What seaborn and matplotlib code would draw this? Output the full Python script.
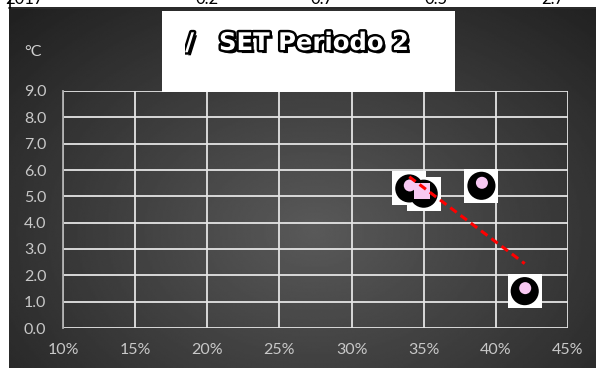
"""Recreate the 'SET Periodo 2' scatter chart with a linear trend line."""

import matplotlib

matplotlib.use("Agg")
import matplotlib.patheffects as pe
import matplotlib.pyplot as plt
import matplotlib.transforms as mtransforms
import numpy as np
import pandas as pd
import seaborn as sns
from matplotlib.lines import Line2D
from matplotlib.patches import Rectangle
from matplotlib.ticker import FixedLocator, PercentFormatter, StrMethodFormatter

W, H = 596, 368

# data
humidity = [0.34, 0.35, 0.39, 0.42]
delta_set = [5.3, 5.1, 5.4, 1.4]
pink_shape = ["o", "s", "o", "o"]
x_ticks = [0.10, 0.15, 0.20, 0.25, 0.30, 0.35, 0.40, 0.45]
y_ticks = [0, 1, 2, 3, 4, 5, 6, 7, 8, 9]
header_labels = ["2017", "0.2", "0.7", "0.5", "2.7"]
title_text = "SET Periodo 2"
y_unit = "°C"

LABEL = "#c8c8c8"
PINK = "#f8c8f2"


def px(x, y):
    """Pixel position (from top-left) to figure fraction."""
    return x / W, 1 - y / H


def draw_background(fig) -> None:
    bg = fig.add_axes([9 / W, 0, 1 - 9 / W, (H - 9) / H], zorder=0)
    yy, xx = np.mgrid[0:1:240j, 0:1:360j]
    r = np.sqrt(((xx - 0.52) / 0.72) ** 2 + ((yy - 0.62) / 0.85) ** 2)
    shade = 0.35 - 0.22 * np.clip(r, 0, 1)
    bg.imshow(shade, cmap="gray", vmin=0, vmax=1, aspect="auto", origin="upper",
              interpolation="bilinear")
    bg.axis("off")


def draw_header(fig) -> None:
    fig.add_artist(Line2D([9 / W, 1], [1 - 8 / H] * 2, color="black", lw=1.2,
                          transform=fig.transFigure))
    fig.add_artist(Line2D([10 / W] * 2, [1 - 8 / H, 1], color="black", lw=1.2,
                          transform=fig.transFigure))
    xs = [5, 207, 322, 436, 553]
    for i, (lab, x) in enumerate(zip(header_labels, xs)):
        fig.text(x / W, 1 - 4.5 / H, lab, ha="left" if i == 0 else "center",
                 va="baseline", fontsize=12, color="black", family="Lato")


def draw_title(fig) -> None:
    box = Rectangle(px(162, 92), 293 / W, 81 / H, transform=fig.transFigure,
                    facecolor="white", edgecolor="none", zorder=5)
    fig.add_artist(box)
    effects = [
        pe.SimplePatchShadow(offset=(2.2, -2.2), shadow_rgbFace="black", alpha=1),
        pe.withStroke(linewidth=3.5, foreground="black"),
    ]
    x, y = px(219, 43)
    fig.text(x, y, title_text, ha="left", va="center", fontsize=17.5, weight="bold",
             color="white", family="DejaVu Sans", path_effects=effects, zorder=6)
    xd, _ = px(194, 43)
    part = fig.text(xd, y, "/", ha="right", va="center", fontsize=17.5, weight="bold",
                    color="white", family="DejaVu Sans", path_effects=effects, zorder=6)
    clip = Rectangle((185 / W, 0), 1, 1, transform=fig.transFigure)
    part.set_clip_path(clip)


def main() -> None:
    sns.set_theme(style="white")
    plt.rcParams["font.family"] = ["Lato", "DejaVu Sans"]

    fig = plt.figure(figsize=(W / 100, H / 100), dpi=100, facecolor="white")
    draw_background(fig)

    left, bottom = px(63, 328)
    ax = fig.add_axes([left, bottom, (568 - 63) / W, (328 - 91) / H], zorder=2)
    ax.set_facecolor("none")

    df = pd.DataFrame({"x": humidity, "y": delta_set, "shape": pink_shape})

    sns.scatterplot(data=df, x="x", y="y", marker="s", s=600, color="white",
                    edgecolor="none", ax=ax, zorder=3, legend=False)
    sns.scatterplot(data=df, x="x", y="y", marker="o", s=410, color="black",
                    edgecolor="none", ax=ax, zorder=4, legend=False)
    up = mtransforms.offset_copy(ax.transData, fig=fig, x=0.5, y=3, units="dots")
    sns.scatterplot(data=df[df["shape"] == "o"], x="x", y="y", marker="o", s=75,
                    color=PINK, edgecolor="none", ax=ax, zorder=5, legend=False,
                    transform=up)
    sq = mtransforms.offset_copy(ax.transData, fig=fig, x=-2, y=3, units="dots")
    sns.scatterplot(data=df[df["shape"] == "s"], x="x", y="y", marker="s", s=130,
                    color=PINK, edgecolor="none", ax=ax, zorder=5, legend=False,
                    transform=sq)

    sns.regplot(data=df, x="x", y="y", scatter=False, ci=None, truncate=True,
                color="#ff0000", ax=ax,
                line_kws={"lw": 2.2, "ls": (0, (2.6, 1.6)), "zorder": 6})

    ax.set_xlim(x_ticks[0], x_ticks[-1])
    ax.set_ylim(y_ticks[0], y_ticks[-1])
    ax.xaxis.set_major_locator(FixedLocator(x_ticks))
    ax.yaxis.set_major_locator(FixedLocator(y_ticks))
    ax.xaxis.set_major_formatter(PercentFormatter(xmax=1, decimals=0))
    ax.yaxis.set_major_formatter(StrMethodFormatter("{x:.1f}"))
    ax.grid(True, color="#e4e4e4", lw=1.3)
    ax.set_axisbelow(True)
    for side in ["top", "right", "bottom"]:
        ax.spines[side].set_visible(False)
    ax.spines["left"].set_color("#b0b0b0")
    ax.spines["left"].set_linewidth(1.3)
    ax.tick_params(axis="both", length=0, colors=LABEL, labelsize=11.5)
    ax.tick_params(axis="y", pad=12)
    ax.tick_params(axis="x", pad=11)
    ax.set_xlabel("")
    ax.set_ylabel("")

    fig.text(*px(33, 52), y_unit, color="#d0d0d0", fontsize=11.5, ha="center", va="center")
    draw_title(fig)
    draw_header(fig)

    fig.savefig("out.png", dpi=100, facecolor="white")
    plt.close(fig)


if __name__ == "__main__":
    main()
